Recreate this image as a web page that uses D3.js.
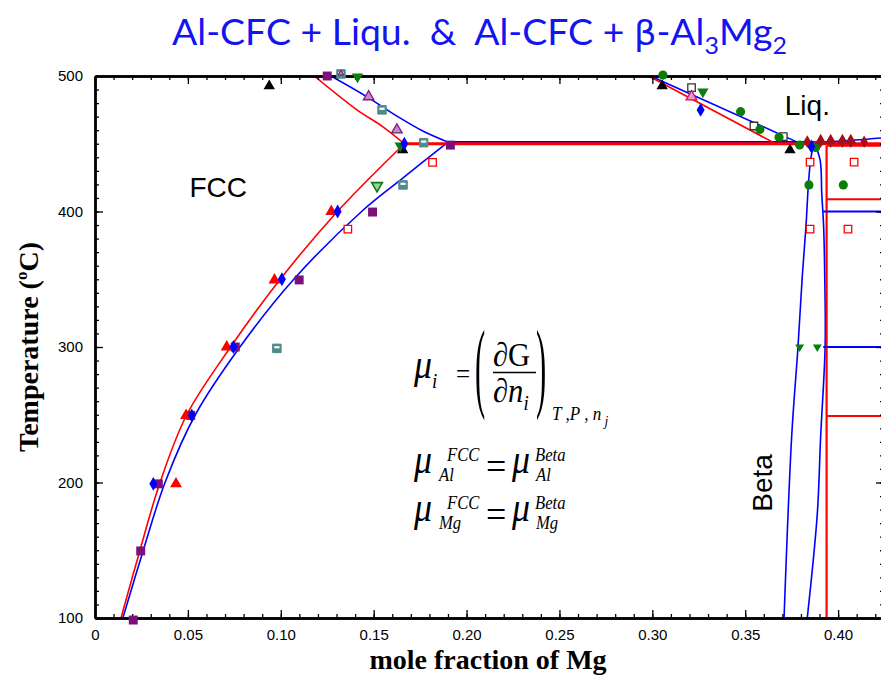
<!DOCTYPE html>
<html>
<head>
<meta charset="utf-8">
<script src="https://cdn.jsdelivr.net/npm/d3@7"></script>
<style>
  html, body { margin: 0; padding: 0; background: #fff; }
  svg { display: block; }
  text { white-space: pre; }
</style>
</head>
<body>
<svg id="chart" width="881" height="679"></svg>
<script>
// ---- Axis ticks ----
const xMajorTicks = [0, 0.05, 0.10, 0.15, 0.20, 0.25, 0.30, 0.35, 0.40];
const xMinorTicks = d3.range(0, 43).map(i => i / 100);
const yMajorTicks = [100, 200, 300, 400, 500];
const yMinorTicks = d3.range(100, 501, 10);

// ---- Calculated phase boundaries [x(Mg), T(°C)] ----
// red: one assessment, blue: another
const redSolvusFCC = [[0.014,100],[0.0242,150],[0.035,200],[0.0494,250],[0.073,300],[0.0997,350],[0.1305,400],[0.1665,450]];
const blueSolvusFCC = [[0.015,100],[0.026,150],[0.0377,200],[0.054,250],[0.078,300],[0.107,350],[0.1435,400],[0.166,425],[0.190,451.2]];
const redLiquidusFCC = [[0.118,500],[0.141,475],[0.155,462.5],[0.1665,450]];
const blueLiquidusFCC = [[0.127,500],[0.146,485],[0.163,470],[0.177,459],[0.190,451.2]];
const redEutectic = [[0.1665,450],[0.43,450]];
const blueEutectic = [[0.190,451.2],[0.387,451.2]];
const redLiquidusBeta = [[0.298,500],[0.3664,450]];
const blueLiquidusBeta = [[0.299,500],[0.378,451.2]];
const blueLiquidusRight = [[0.387,451.2],[0.400,451.8],[0.43,455]];
const betaLeft = [[0.3709,100],[0.375,234],[0.3784,300],[0.3807,352],[0.3827,389],[0.384,420],[0.3852,438],[0.387,451.2]];
const betaRight = [[0.3834,100],[0.3888,177],[0.3906,234],[0.393,300],[0.3928,352],[0.3922,389],[0.3912,413],[0.3903,438],[0.387,451.2]];
const redBetaVertical = [[0.3938,100],[0.3938,448.5]];
const redBetaLevels = [448.5, 409, 249];
const blueBetaLevels = [400, 300];

// ---- Experimental points [x(Mg), T(°C)] ----
const redTriangles = [[0.0436,199],[0.049,249.5],[0.0709,300],[0.0966,349.5],[0.1272,400]];
const purpleSquares = [[0.0206,98.5],[0.0246,149.5],[0.0341,199],[0.0515,249.5],[0.0755,300],[0.1099,349.5],[0.1494,399.6],[0.1913,449],[0.125,500]];
const blueDiamonds = [[0.0314,199],[0.0521,249.5],[0.0745,300],[0.1006,350],[0.1306,400],[0.1665,450],[0.326,475],[0.3856,448]];
const redOpenSquares = [[0.1361,387],[0.1817,436.3],[0.3849,436.5],[0.4086,436.5],[0.3849,387],[0.4053,387]];
const tealSquares = [[0.0979,299],[0.1658,419.6],[0.1545,475],[0.1769,450.8],[0.1324,501.5]];
const purpleOpenTriangles = [[0.1473,484.7],[0.1625,460.2]];
const purpleSmallTriangles = [[0.1324,502]];
const greenDownTriangles = [[0.1413,499.5],[0.1643,448.5],[0.3272,488.4]];
const greenSmallDownTriangles = [[0.3793,300],[0.3888,300]];
const greenOpenDownTriangles = [[0.1518,419]];
const blackTriangles = [[0.0938,492.6],[0.1656,445.5],[0.3053,492.6],[0.3741,445.4]];
const blackOpenSquares = [[0.3211,491.4],[0.3547,463.1],[0.3705,455.2]];
const redOpenTriangles = [[0.3211,484.7]];
const greenCircles = [[0.3057,500.7],[0.3475,473.7],[0.3579,460.6],[0.3682,454.8],[0.3793,449.1],[0.3879,447.3],[0.3843,419.6],[0.4028,419.6]];
const darkRedTriangles = [[0.3906,452.5],[0.3960,452.5],[0.4023,452.5],[0.4068,452.5]];
const darkRedDiamonds = [[0.3834,451.6],[0.3906,451.6],[0.3960,451.6],[0.4023,451.6],[0.4068,451.6],[0.4140,451.5]];

// ---- Layout ----
const svg = d3.select("#chart");
const mLeft = 95, mRight = 884, mTop = 76, mBottom = 618;
const x = d3.scaleLinear([0, 0.4247], [mLeft, mRight]);
const y = d3.scaleLinear([100, 500], [mBottom, mTop]);

svg.append("rect").attr("width", 881).attr("height", 679).attr("fill", "#fff");

svg.append("defs").append("clipPath").attr("id", "plot-clip")
  .append("rect").attr("x", mLeft).attr("y", mTop)
  .attr("width", mRight - mLeft).attr("height", mBottom - mTop);

const plot = svg.append("g").attr("clip-path", "url(#plot-clip)");

const RED = "#ff0000", BLUE = "#0000ff";
const smooth = d3.line().x(d => x(d[0])).y(d => y(d[1])).curve(d3.curveCatmullRom.alpha(0.5));
const straight = d3.line().x(d => x(d[0])).y(d => y(d[1]));

function curve(data, color, width, gen) {
  plot.append("path").datum(data)
    .attr("d", gen || smooth)
    .attr("fill", "none").attr("stroke", color)
    .attr("stroke-width", width).attr("stroke-linejoin", "round");
}

// two-phase boundaries
curve(blueSolvusFCC, BLUE, 1.6);
curve(blueLiquidusFCC, BLUE, 1.6);
curve(blueLiquidusBeta, BLUE, 1.6, straight);
curve(blueLiquidusRight, BLUE, 1.6);
curve(betaLeft, BLUE, 1.6);
curve(betaRight, BLUE, 1.6);
curve(blueEutectic, BLUE, 2, straight);
curve(redSolvusFCC, RED, 1.6);
curve(redLiquidusFCC, RED, 1.6);
curve(redLiquidusBeta, RED, 1.6, straight);
curve(redEutectic, RED, 3, straight);
curve(redBetaVertical, RED, 2.2, straight);

blueBetaLevels.forEach(t => curve([[0.392, t], [0.43, t]], BLUE, 2, straight));
redBetaLevels.forEach(t => curve([[0.3938, t], [0.43, t]], RED, 2, straight));

// ---- Axes (ticks point inward) ----
const fmtX = d => d === 0 ? "0" : d3.format(".2f")(d);
function axisGroup(gen, tx, ty) {
  const g = svg.append("g").attr("transform", `translate(${tx},${ty})`).call(gen);
  g.selectAll("line").attr("stroke", "#000").attr("stroke-width", 1.3);
  g.select(".domain").attr("stroke", "#000").attr("stroke-width", 2.4);
  g.selectAll("text").attr("font-family", "Liberation Sans, Arial, sans-serif")
    .attr("font-size", 15).attr("fill", "#000");
  return g;
}
axisGroup(d3.axisBottom(x).tickValues(xMinorTicks).tickSize(-4).tickSizeOuter(0).tickFormat(""), 0, mBottom);
axisGroup(d3.axisBottom(x).tickValues(xMajorTicks).tickSize(-8).tickSizeOuter(0).tickPadding(11).tickFormat(fmtX), 0, mBottom);
axisGroup(d3.axisTop(x).tickValues(xMinorTicks).tickSize(-4).tickSizeOuter(0).tickFormat(""), 0, mTop);
axisGroup(d3.axisTop(x).tickValues(xMajorTicks).tickSize(-8).tickSizeOuter(0).tickFormat(""), 0, mTop);
axisGroup(d3.axisLeft(y).tickValues(yMinorTicks).tickSize(-4).tickSizeOuter(0).tickFormat(""), mLeft, 0);
axisGroup(d3.axisLeft(y).tickValues(yMajorTicks).tickSize(-8).tickSizeOuter(0).tickPadding(12).tickFormat(d3.format("d")), mLeft, 0);
axisGroup(d3.axisRight(y).tickValues(yMinorTicks).tickSize(-4).tickSizeOuter(0).tickFormat(""), mRight, 0);
axisGroup(d3.axisRight(y).tickValues(yMajorTicks).tickSize(-8).tickSizeOuter(0).tickFormat(""), mRight, 0);

// ---- Markers ----
const marks = svg.append("g");
function points(data, type, size, fill, stroke, sw, rot) {
  marks.selectAll(null).data(data).join("path")
    .attr("transform", d => `translate(${x(d[0])},${y(d[1])})${rot ? " rotate(" + rot + ")" : ""}`)
    .attr("d", d3.symbol(type, size))
    .attr("fill", fill).attr("stroke", stroke || "none").attr("stroke-width", sw || 0);
}
const TRI_DOWN = 180;

points(purpleSquares, d3.symbolSquare, 80, "#7b0f7b");
points(tealSquares, d3.symbolSquare, 72, "#4e8b8b", "#4e8b8b", 1);
marks.selectAll(null).data(tealSquares).join("rect")
  .attr("x", d => x(d[0]) - 2.6).attr("y", d => y(d[1]) - 2.2)
  .attr("width", 5.2).attr("height", 2.2).attr("fill", "#fff");
points(purpleSmallTriangles, d3.symbolTriangle, 14, "#b27ab2", "#7b0f7b", 1);
points(redOpenSquares, d3.symbolSquare, 56, "#fff", RED, 1.3);
points(blackOpenSquares, d3.symbolSquare, 56, "#fff", "#333", 1.3);
points(redTriangles, d3.symbolTriangle, 62, RED);
points(redOpenTriangles, d3.symbolTriangle, 50, "#e89ac0", "#d01060", 1.3);
points(purpleOpenTriangles, d3.symbolTriangle, 48, "#c58ac5", "#7b1f7b", 1.3);
points(blackTriangles, d3.symbolTriangle, 56, "#000");
points(greenDownTriangles, d3.symbolTriangle, 56, "#0a7d0a", null, 0, TRI_DOWN);
points(greenSmallDownTriangles, d3.symbolTriangle, 34, "#0a7d0a", null, 0, TRI_DOWN);
points(greenOpenDownTriangles, d3.symbolTriangle, 50, "#9fcf9f", "#0a7d0a", 1.6, TRI_DOWN);
points(greenCircles, d3.symbolCircle, 66, "#0a7d0a");
points(blueDiamonds, d3.symbolDiamond, 56, BLUE);
points(darkRedTriangles, d3.symbolTriangle, 56, "#a3101c");
points(darkRedDiamonds, d3.symbolDiamond, 46, "#a3101c");

// ---- Region labels ----
const sans = "Liberation Sans, Arial, sans-serif";
const serif = "Liberation Serif, Times New Roman, serif";
svg.append("text").attr("x", x(0.0508)).attr("y", y(410.7))
  .attr("font-family", sans).attr("font-size", 28).text("FCC");
svg.append("text").attr("x", x(0.3713)).attr("y", y(471.2))
  .attr("font-family", sans).attr("font-size", 28).text("Liq.");
svg.append("text").attr("transform", `translate(${x(0.3643)},${y(178.4)}) rotate(-90)`)
  .attr("font-family", sans).attr("font-size", 28).text("Beta");

// ---- Axis titles ----
svg.append("text").attr("x", 488).attr("y", 669).attr("text-anchor", "middle")
  .attr("font-family", serif).attr("font-weight", "bold").attr("font-size", 28)
  .text("mole fraction of Mg");
const yt = svg.append("text").attr("transform", "translate(38,347) rotate(-90)")
  .attr("text-anchor", "middle").attr("font-family", serif)
  .attr("font-weight", "bold").attr("font-size", 28);
yt.append("tspan").text("Temperature (");
yt.append("tspan").attr("font-size", 17).attr("dy", -11).text("o");
yt.append("tspan").attr("dy", 11).text("C)");

// ---- Title ----
const tg = svg.append("g");
const tt = tg.append("text").attr("text-anchor", "middle")
  .attr("font-family", "Lato, Open Sans, sans-serif").attr("font-size", 36).attr("fill", "#1414f0");
tt.append("tspan").text("Al-CFC + Liqu.  &  Al-CFC + ");
tt.append("tspan").attr("font-family", "DejaVu Sans, sans-serif").attr("font-size", 34).text("β");
tt.append("tspan").text("-Al");
tt.append("tspan").attr("font-size", 24).attr("dy", 9).text("3");
tt.append("tspan").attr("dy", -9).text("Mg");
tt.append("tspan").attr("font-size", 24).attr("dy", 9).text("2");
const tw = tt.node().getBBox().width;
tg.attr("transform", `translate(479.5,45) scale(${615 / tw},1)`);

// ---- Chemical potential equations (slightly condensed serif) ----
const SX = 0.9;
const eq = svg.append("g").attr("transform", `translate(415,0) scale(${SX},1)`)
  .attr("font-family", serif).attr("fill", "#000");
const ex = px => (px - 415) / SX;
function t(xp, yp, str, size, italic) {
  return eq.append("text").attr("x", ex(xp)).attr("y", yp).attr("font-size", size)
    .attr("font-style", italic ? "italic" : "normal").text(str);
}
// superscript and subscript stacked on one symbol
function stack(xSup, xSub, base, sup, sub) {
  t(xSup, base - 12, sup, 18.5, true);
  t(xSub, base + 8, sub, 18.5, true);
}

// mu_i = (dG/dn_i)_{T,P,n_j}
const mui = t(414, 378, "μ", 40, true);
mui.append("tspan").attr("font-size", 21).attr("dy", 10).text("i");
t(456, 383, "=", 28, false);
eq.append("text").attr("transform", `translate(${ex(475)},399) scale(1,2.94)`)
  .attr("font-size", 34).text("(");
t(493, 366, "∂G", 34, false);
eq.append("line").attr("x1", ex(493)).attr("x2", ex(536)).attr("y1", 372.5).attr("y2", 372.5)
  .attr("stroke", "#000").attr("stroke-width", 1.6);
const den = t(493, 402, "∂", 34, false);
den.append("tspan").attr("font-style", "italic").text("n");
den.append("tspan").attr("font-style", "italic").attr("font-size", 21).attr("dy", 8).text("i");
eq.append("text").attr("transform", `translate(${ex(536)},399) scale(1,2.94)`)
  .attr("font-size", 34).text(")");
const sub1 = t(552, 420, "", 19, true);
sub1.append("tspan").text("T ,P , n");
sub1.append("tspan").attr("dy", 6).attr("font-size", 15).text(" j");

// mu_Al^FCC = mu_Al^Beta  and  mu_Mg^FCC = mu_Mg^Beta
[["Al", 473], ["Mg", 521]].forEach(([el, base]) => {
  t(414, base, "μ", 40, true);
  stack(447, 439, base, "FCC", el);
  t(486, base + 7, "=", 40, false);
  t(512, base, "μ", 40, true);
  stack(535, 536, base, "Beta", el);
});
</script>
</body>
</html>
